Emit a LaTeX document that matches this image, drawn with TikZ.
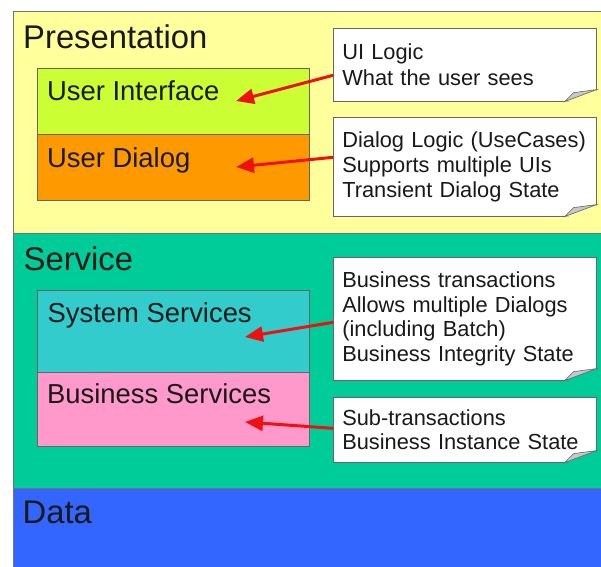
\documentclass[tikz,border=0pt]{standalone}
\usepackage{fontspec}
\setmainfont{Liberation Sans}
\usetikzlibrary{arrows.meta,positioning}

\definecolor{presyellow}{HTML}{FFFF9C}
\definecolor{servgreen}{HTML}{00CC99}
\definecolor{datablue}{HTML}{3366FF}
\definecolor{uilime}{HTML}{CCFF33}
\definecolor{dlgorange}{HTML}{FF9900}
\definecolor{systeal}{HTML}{33CCCC}
\definecolor{buspink}{HTML}{FF99CC}
\definecolor{hintred}{HTML}{EE1111}

% folded corner of a note: node name, colour behind it
\newcommand{\dogear}[2]{%
	\fill[#2] ([xshift=-32pt]#1.south east) -- ([xshift=1pt,yshift=-1pt]#1.south east) -- ([yshift=12pt]#1.south east) -- cycle;
	\draw[black!60,line width=0.6pt,fill=black!22] ([xshift=-32pt]#1.south east) -- ([xshift=-23pt,yshift=9pt]#1.south east) -- ([yshift=12pt]#1.south east) -- cycle;
}

\begin{document}
\begin{tikzpicture}[x=1pt,y=-1pt]
		\tikzstyle{band}=[draw=black!55,line width=0.8pt,anchor=north west,minimum width=620pt,inner sep=0pt]
		\tikzstyle{layer}=[draw=black!60,line width=0.8pt,anchor=north west,minimum width=272pt,inner sep=0pt]
		\tikzstyle{bandlabel}=[anchor=base west,inner sep=0pt,text=black!90,font=\fontsize{32.8}{38}\selectfont]
		\tikzstyle{layerlabel}=[anchor=base west,inner sep=0pt,text=black!90,font=\fontsize{27.4}{32}\selectfont]
		\tikzstyle{note}=[draw=black!60,fill=white,line width=0.6pt,anchor=north west,minimum width=263pt,text width=245pt,inner xsep=9pt,align=left,text=black!90,font=\fontsize{21.8}{24.6}\selectfont]
		\tikzstyle{hint}=[draw=hintred,line width=3pt,-{Triangle[length=18pt,width=15pt]}]

		\useasboundingbox[fill=white] (0,0) rectangle (601,566);

		\node[band,fill=presyellow,minimum height=222pt](pres) at (12.5,10.5){};
		\node[band,fill=servgreen,minimum height=255pt](serv) at (12.5,232.5){};
		\node[band,fill=datablue,minimum height=100pt](data) at (12.5,487.5){};

		\node[bandlabel](presL) at (23,48){Presentation};
		\node[bandlabel](servL) at (23.5,270){Service};
		\node[bandlabel](dataL) at (22.5,523){Data};

		\node[layer,fill=uilime,minimum height=66pt](ui) at (37,68){};
		\node[layer,fill=dlgorange,minimum height=66pt](ud) at (37,134){};
		\node[layer,fill=systeal,minimum height=82pt](sys) at (37,290){};
		\node[layer,fill=buspink,minimum height=74pt](bus) at (37,372){};

		\node[layerlabel](uiL) at (47,100){User Interface};
		\node[layerlabel](udL) at (47,167){User Dialog};
		\node[layerlabel](sysL) at (47.5,322){System Services};
		\node[layerlabel](busL) at (47,403){Business Services};

		\node[note,minimum height=73pt](uiN) at (333,28){UI Logic\\[2pt]What the user sees};
		\node[note,minimum height=99pt](udN) at (333,117){Dialog Logic (UseCases)\\Supports multiple UIs\\Transient Dialog State};
		\node[note,minimum height=123pt](sysN) at (333,257){Business transactions\\Allows multiple Dialogs\\(including Batch)\\Business Integrity State};
		\node[note,minimum height=65pt](busN) at (333,397){Sub-transactions\\Business Instance State};

		\dogear{uiN}{presyellow}
		\dogear{udN}{presyellow}
		\dogear{sysN}{servgreen}
		\dogear{busN}{servgreen}

		\coordinate(uiT) at (236,101);
		\coordinate(udT) at (236,167);
		\coordinate(sysT) at (245,337);
		\coordinate(busT) at (245,422);

		\draw[hint] ([yshift=-10.5pt]uiN.west) -- (uiT);
		\draw[hint] ([yshift=9.5pt]udN.west) -- (udT);
		\draw[hint] ([yshift=-3.5pt]sysN.west) -- (sysT);
		\draw[hint] ([yshift=1.5pt]busN.west) -- (busT);
	\end{tikzpicture}
\end{document}
